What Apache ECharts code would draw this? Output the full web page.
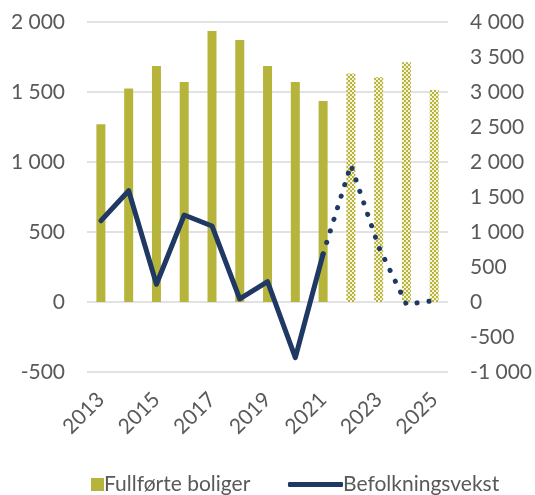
<!DOCTYPE html>
<html>
<head>
<meta charset="utf-8">
<script src="https://cdn.jsdelivr.net/npm/echarts@6/dist/echarts.min.js"></script>
<style>html,body{margin:0;padding:0;background:#fff}#c{width:535px;height:495px}</style>
</head>
<body>
<div id="c"></div>
<script>
var years = ['2013','2014','2015','2016','2017','2018','2019','2020','2021','2022','2023','2024','2025'];
var completedHomes = [1270,1525,1686,1571,1936,1871,1686,1571,1436,1633,1605,1712,1514];
var popGrowth = [1161,1590,253,1243,1086,43,290,-796,686,1957,790,-33,20];
var firstForecastIndex = 9;
var leftTicks = [-500,0,500,1000,1500,2000];
var rightTicks = [-1000,-500,0,500,1000,1500,2000,2500,3000,3500,4000];

var OLIVE = '#B7B43B';
var NAVY = '#1F3864';
var TXT = '#595959';
var FONT = 'Lato';

function fmt(v){
  var s = String(Math.abs(v));
  s = s.replace(/\B(?=(\d{3})+(?!\d))/g, ' ');
  return (v < 0 ? '-' : '') + s;
}

var pc = document.createElement('canvas');
pc.width = 4; pc.height = 4;
var pctx = pc.getContext('2d');
pctx.fillStyle = '#f4f2d8'; pctx.fillRect(0,0,4,4);
pctx.fillStyle = OLIVE; pctx.fillRect(0,0,2,2); pctx.fillRect(2,2,2,2);

var barData = completedHomes.map(function(v,i){
  if (i >= firstForecastIndex) return {value: v, itemStyle: {color: {image: pc, repeat: 'repeat'}}};
  return v;
});
var solidLine = popGrowth.map(function(v,i){ return i < firstForecastIndex ? v : null; });
var dotLine = popGrowth.map(function(v,i){ return i >= firstForecastIndex - 1 ? v : null; });

var chart = echarts.init(document.getElementById('c'));
chart.setOption({
  animation: false,
  textStyle: {fontFamily: FONT},
  grid: {left: 87, right: 85, top: 22, bottom: 123, containLabel: false},
  legend: [
    {data: [{name: 'Fullførte boliger', icon: 'rect'}], left: 86, top: 469, itemWidth: 13, itemHeight: 13, itemGap: 0,
     textStyle: {color: TXT, fontSize: 21, fontFamily: FONT, padding: [0,0,0,-5]}, selectedMode: false},
    {data: [{name: 'Befolkningsvekst', icon: 'roundRect'}], left: 283, top: 469, itemWidth: 55, itemHeight: 5,
     textStyle: {color: TXT, fontSize: 21, fontFamily: FONT, padding: [0,0,0,-5]}, selectedMode: false}
  ],
  xAxis: {
    type: 'category', data: years, boundaryGap: true,
    axisLine: {show: false, onZero: false}, axisTick: {show: false},
    axisLabel: {rotate: 45, interval: 1, color: TXT, fontSize: 21, fontFamily: FONT, margin: 24}
  },
  yAxis: [
    {type: 'value', min: -500, max: 2000, interval: 500, position: 'left',
     axisLine: {show: false}, axisTick: {show: false},
     axisLabel: {formatter: fmt, color: TXT, fontSize: 21, fontFamily: FONT, margin: 22},
     splitLine: {lineStyle: {color: '#D9D9D9', width: 1.5}}},
    {type: 'value', min: -1000, max: 4000, interval: 500, position: 'right',
     axisLine: {show: false}, axisTick: {show: false},
     axisLabel: {formatter: fmt, color: TXT, fontSize: 21, fontFamily: FONT, margin: 22, align: 'left'},
     splitLine: {show: false}}
  ],
  series: [
    {name: 'Fullførte boliger', type: 'bar', yAxisIndex: 0, data: barData, barWidth: 9,
     itemStyle: {color: OLIVE}},
    {name: 'Befolkningsvekst', type: 'line', yAxisIndex: 1, data: solidLine, symbol: 'none',
     lineStyle: {color: NAVY, width: 5, cap: 'round', join: 'round'}, itemStyle: {color: NAVY}},
    {name: 'Prognose', type: 'line', yAxisIndex: 1, data: dotLine, symbol: 'none',
     lineStyle: {color: NAVY, width: 5, type: [0.1, 12], cap: 'round'}, itemStyle: {color: NAVY}}
  ]
});
</script>
</body>
</html>
